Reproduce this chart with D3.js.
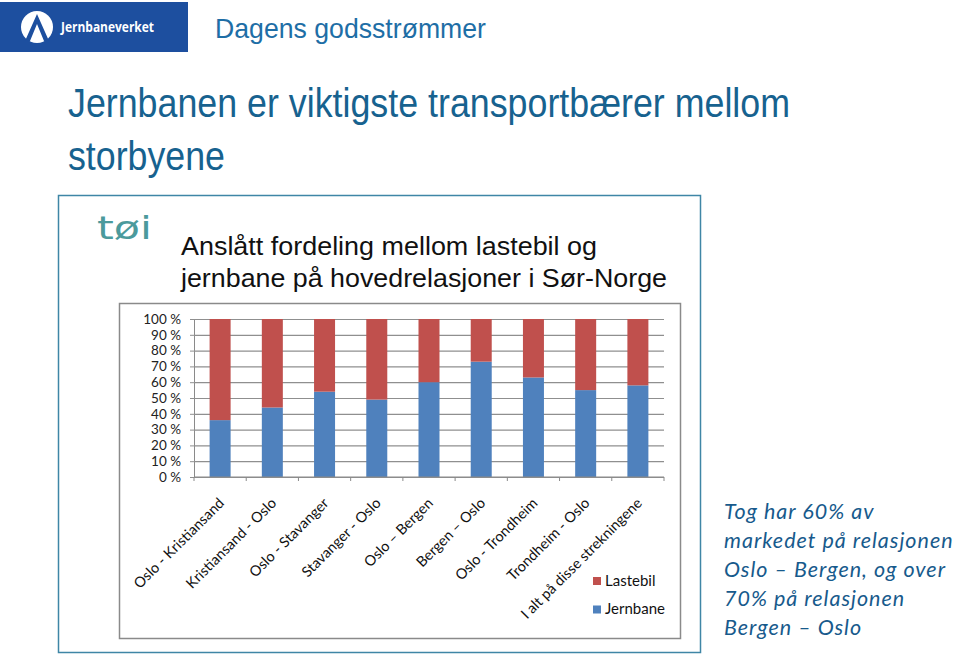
<!DOCTYPE html>
<html>
<head>
<meta charset="utf-8">
<script src="https://cdn.jsdelivr.net/npm/d3@7"></script>
<style>
  html, body { margin: 0; padding: 0; background: #fff; }
  svg { display: block; }
</style>
</head>
<body>
<svg id="chart" width="960" height="656"></svg>
<script>
// ---- data ----
const categories = [
  "Oslo - Kristiansand",
  "Kristiansand - Oslo",
  "Oslo - Stavanger",
  "Stavanger - Oslo",
  "Oslo – Bergen",
  "Bergen – Oslo",
  "Oslo - Trondheim",
  "Trondheim - Oslo",
  "I alt på disse strekningene"
];
const jernbane = [36, 44, 54, 49, 60, 73, 63, 55, 58];
const lastebil = [64, 56, 46, 51, 40, 27, 37, 45, 42];
const seriesNames = ["Jernbane", "Lastebil"];
const yTicks = [0, 10, 20, 30, 40, 50, 60, 70, 80, 90, 100];
const pageTitle = "Dagens godsstrømmer";
const headingLines = ["Jernbanen er viktigste transportbærer mellom", "storbyene"];
const chartTitleLines = ["Anslått fordeling mellom lastebil og", "jernbane på hovedrelasjoner i Sør-Norge"];
const noteLines = ["Tog har 60% av", "markedet på relasjonen", "Oslo – Bergen, og over", "70% på relasjonen", "Bergen – Oslo"];

const colors = { Jernbane: "#4f81bd", Lastebil: "#c0504d" };

const svg = d3.select("#chart");

// ---- header ----
svg.append("rect").attr("x", 0).attr("y", 2).attr("width", 188).attr("height", 50).attr("fill", "#1d4f9f");
svg.append("circle").attr("cx", 37).attr("cy", 27).attr("r", 16).attr("fill", "#fff");
svg.append("path")
  .attr("d", "M37,14 L25,41 L30,41 L37,24 L44,41 L49,41 Z")
  .attr("fill", "#1d4f9f");
svg.append("text").attr("x", 61).attr("y", 32)
  .attr("font-family", "'Open Sans', 'DejaVu Sans', sans-serif").attr("font-weight", "bold")
  .attr("font-size", 13.5).attr("fill", "#fff")
  .attr("textLength", 93).attr("lengthAdjust", "spacingAndGlyphs")
  .text("Jernbaneverket");

svg.append("text").attr("x", 215).attr("y", 38)
  .attr("font-family", "'Liberation Sans', Arial, sans-serif")
  .attr("font-size", 28).attr("fill", "#1e6ea6")
  .attr("textLength", 271).attr("lengthAdjust", "spacingAndGlyphs")
  .text(pageTitle);

const headingWidths = [722, 157];
svg.selectAll("text.heading").data(headingLines).join("text")
  .attr("class", "heading")
  .attr("x", 68).attr("y", (d, i) => 117 + i * 53)
  .attr("font-family", "'Liberation Sans', Arial, sans-serif")
  .attr("font-size", 40).attr("fill", "#17628f")
  .attr("textLength", (d, i) => headingWidths[i]).attr("lengthAdjust", "spacingAndGlyphs")
  .text(d => d);

// ---- chart frame ----
svg.append("rect").attr("x", 58.5).attr("y", 195.5).attr("width", 642).attr("height", 457)
  .attr("fill", "#fff").attr("stroke", "#3f86a6").attr("stroke-width", 1.5);

svg.append("text").attr("x", 97).attr("y", 239)
  .attr("font-family", "'DejaVu Sans', sans-serif").attr("font-size", 32)
  .attr("fill", "#4b9a9c")
  .attr("textLength", 55).attr("lengthAdjust", "spacingAndGlyphs")
  .text("tøi");

const ctWidths = [416, 486];
svg.selectAll("text.ctitle").data(chartTitleLines).join("text")
  .attr("class", "ctitle")
  .attr("x", 181).attr("y", (d, i) => 255 + i * 32)
  .attr("font-family", "'Liberation Sans', Arial, sans-serif")
  .attr("font-size", 26).attr("fill", "#111")
  .attr("textLength", (d, i) => ctWidths[i]).attr("lengthAdjust", "spacingAndGlyphs")
  .text(d => d);

svg.append("rect").attr("x", 119.5).attr("y", 303.5).attr("width", 561).attr("height", 335)
  .attr("fill", "#fff").attr("stroke", "#8a8a8a").attr("stroke-width", 1.5);

// ---- scales ----
const x0 = 194, x1 = 664, yTop = 319, yBot = 477;
const x = d3.scaleBand().domain(categories).range([x0, x1]).paddingInner(0.6).paddingOuter(0.3);
const y = d3.scaleLinear().domain([0, 100]).range([yBot, yTop]);

const labelFont = "Lato, 'Open Sans', sans-serif";

// y axis with gridlines
const yAxis = d3.axisLeft(y).tickValues(yTicks).tickFormat(d => d + " %")
  .tickSizeInner(-(x1 - x0)).tickSizeOuter(0).tickPadding(13);
const gy = svg.append("g").attr("transform", `translate(${x0},0)`).call(yAxis);
gy.select(".domain").attr("stroke", "#8a8a8a");
gy.selectAll(".tick line").attr("stroke", "#8f8f8f").attr("stroke-width", 1.2);
gy.selectAll(".tick text").attr("font-family", labelFont).attr("font-size", 13.5).attr("fill", "#222");
gy.selectAll(".tick").append("line").attr("x1", -4).attr("x2", 0).attr("stroke", "#8f8f8f");

// stacked bars
const rows = categories.map((c, i) => ({ cat: c, Jernbane: jernbane[i], Lastebil: lastebil[i] }));
const stack = d3.stack().keys(seriesNames)(rows);
const barW = 21;
svg.append("g").selectAll("g").data(stack).join("g")
  .attr("fill", d => colors[d.key])
  .selectAll("rect").data(d => d).join("rect")
  .attr("x", d => x(d.data.cat) + x.bandwidth() / 2 - barW / 2)
  .attr("width", barW)
  .attr("y", d => y(d[1]))
  .attr("height", d => y(d[0]) - y(d[1]));

// x axis: line + boundary ticks
const step = x.step();
const boundaries = d3.range(categories.length + 1).map(i => x0 + (x.paddingOuter() - x.paddingInner() / 2) * step + i * step);
const gx = svg.append("g");
gx.append("line").attr("x1", x0).attr("x2", x1).attr("y1", yBot).attr("y2", yBot).attr("stroke", "#8a8a8a").attr("stroke-width", 1.2);
gx.selectAll("line.tk").data(boundaries).join("line").attr("class", "tk")
  .attr("x1", d => d).attr("x2", d => d).attr("y1", yBot).attr("y2", yBot + 4)
  .attr("stroke", "#8a8a8a");

gx.selectAll("text").data(categories).join("text")
  .attr("transform", d => `translate(${x(d) + x.bandwidth() / 2 + 5},${yBot + 27}) rotate(-45)`)
  .attr("text-anchor", "end")
  .attr("font-family", labelFont).attr("font-size", 14.5).attr("fill", "#111")
  .text(d => d);

// legend
const legendItems = ["Lastebil", "Jernbane"];
const lg = svg.append("g").selectAll("g").data(legendItems).join("g")
  .attr("transform", (d, i) => `translate(593,${577 + i * 28.5})`);
lg.append("rect").attr("width", 8).attr("height", 8).attr("fill", d => colors[d]);
lg.append("text").attr("x", 12).attr("y", 8.5)
  .attr("font-family", labelFont).attr("font-size", 15).attr("fill", "#111")
  .text(d => d);

// note text
svg.selectAll("text.note").data(noteLines).join("text")
  .attr("class", "note")
  .attr("x", 724).attr("y", (d, i) => 519 + i * 29)
  .attr("font-family", "Lato, 'Open Sans', sans-serif").attr("font-style", "italic")
  .attr("font-size", 21.5).attr("letter-spacing", 1).attr("fill", "#175a8c")
  .text(d => d);
</script>
</body>
</html>
